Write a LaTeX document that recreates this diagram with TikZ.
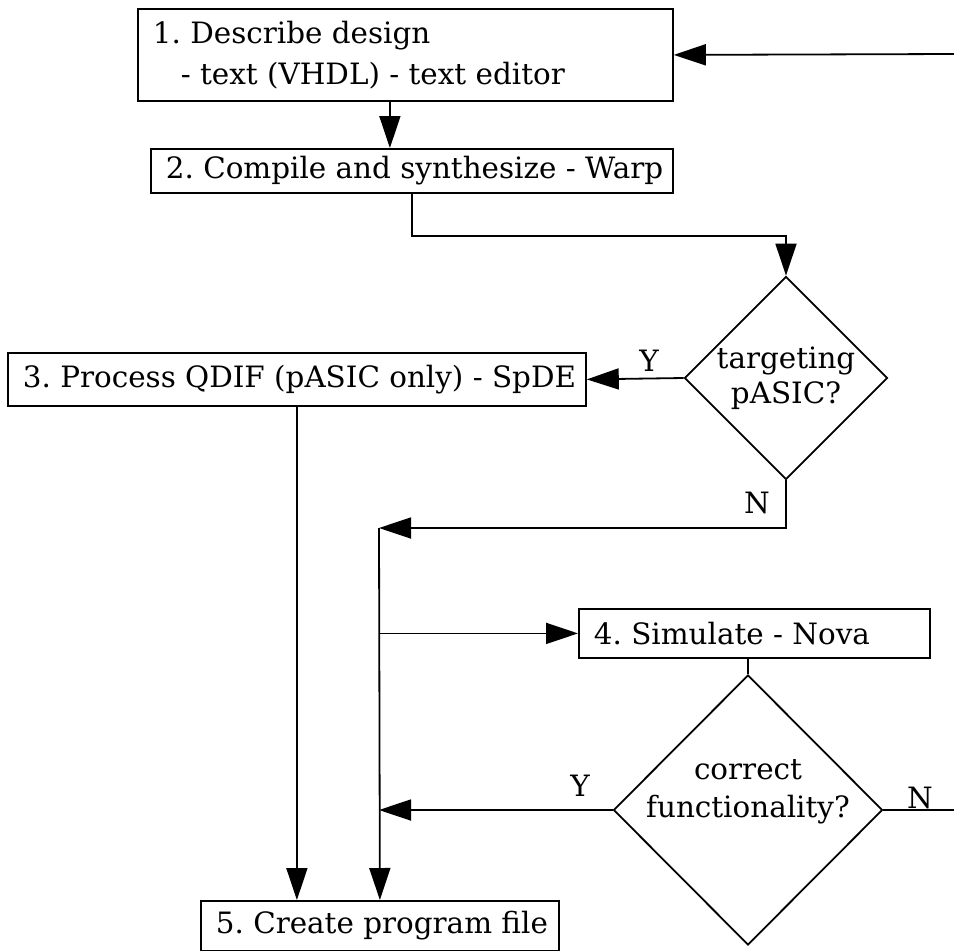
\documentclass[tikz,border=0pt]{standalone}
\IfFileExists{pncr8t.tfm}{\usepackage[T1]{fontenc}\usepackage{newcent}}{\usepackage{fontspec}\setmainfont{DejaVu Serif}}
\usetikzlibrary{arrows.meta,shapes.geometric,calc}
\frenchspacing
\newcommand\fs{\fontsize{29.4}{41}\selectfont}
\tikzset{
  box/.style={draw, line width=1.8pt, anchor=north west, inner xsep=15pt, inner ysep=0pt, align=left, font=\fs},
  dia/.style={draw, diamond, line width=1.8pt, inner sep=0pt},
  conn/.style={line width=1.8pt, line join=miter},
  arr/.style={conn, -{Triangle[length=32pt,width=21pt]}},
  lbl/.style={font=\fs, inner sep=0pt},
}
\begin{document}
\begin{tikzpicture}[x=1pt,y=-1pt]
\useasboundingbox (0,0) rectangle (954,951);
% boxes
\node[box, minimum width=535pt, minimum height=92pt] (b1) at (137,8)
  {\makebox[505pt][l]{1. Describe design}\\\makebox[505pt][l]{\hspace{28pt}- text (VHDL) - text editor}};
\node[box, minimum width=522pt, minimum height=44pt] (b2) at (150,148)
  {\makebox[492pt][l]{2. Compile and synthesize - Warp}};
\node[box, minimum width=578pt, minimum height=53pt] (b3) at (7,352)
  {\makebox[548pt][l]{3. Process QDIF (pASIC only) - SpDE}};
\node[box, minimum width=351pt, minimum height=49pt] (b4) at (578,608)
  {\makebox[321pt][l]{4. Simulate - Nova}};
\node[box, minimum width=358pt, minimum height=50pt] (b5) at (200,900)
  {\makebox[328pt][l]{5. Create program file}};
% decisions
\node[dia, minimum width=203pt, minimum height=203pt] (d1) at (786,378) {};
\node[lbl, align=center, font=\fontsize{29.4}{35}\selectfont] (t1) at (d1.center) {targeting\\pASIC?};
\node[dia, minimum width=269pt, minimum height=270pt] (d2) at (748,810) {};
\node[lbl, align=center, font=\fontsize{29.4}{38}\selectfont] (t2) at ([yshift=18pt]d2.center) {correct\\functionality?};
% labels
\node[lbl] (y1) at (649,361) {Y};
\node[lbl] (n1) at (757,503) {N};
\node[lbl] (y2) at (580,786) {Y};
\node[lbl] (n2) at (920,798) {N};
% coordinates
\coordinate (j1) at (379,528);
\coordinate (loopT) at (954,54);
\coordinate (loopB) at (954,810);
% connectors
\draw[arr] (loopT) -- (b1.east);
\draw[arr] ([xshift=-15.5pt]b1.south) -- ([xshift=-15.5pt]b1.south |- b2.north);
\draw[arr] (b2.south) -- ++(0,42) -| (d1.north);
\draw[arr] (d1.west) -- (b3.east);
\draw[arr] (d1.south) |- (j1);
\draw[arr] (j1) -- (b5.north);
\draw[arr] (b3.south) -- (b3.south |- b5.north);
\draw[arr] (j1 |- b4.west) -- (b4.west);
\draw[conn] (b4.south -| d2.north) -- (d2.north);
\draw[arr] (d2.west) -- (d2.west -| j1);
\draw[conn] (d2.east) -- (loopB);
\end{tikzpicture}
\end{document}
